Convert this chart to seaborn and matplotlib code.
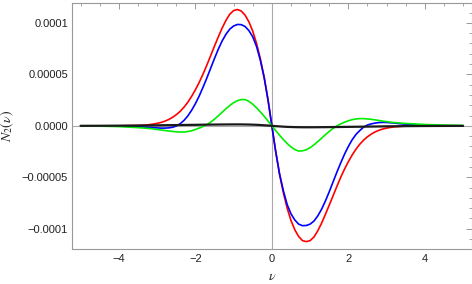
import matplotlib
matplotlib.use("Agg")
import matplotlib.pyplot as plt
import matplotlib.ticker as mticker
import numpy as np
import pandas as pd
import seaborn as sns

# sample points of nu: coarse on the flat tails, 0.1 steps in the middle
nu = [-5.0, -4.5, -4.0] + [round(v, 1) for v in np.arange(-3.5, 3.51, 0.1)] + [4.0, 4.5, 5.0]

# curve values, units of 1e-6
red = [0.0, 0.0, 0.04,
       0.38, 0.55, 0.8, 1.2, 1.7, 2.4, 3.3, 4.5, 6.1, 8.2,
       10.8, 14.0, 18.0, 22.8, 28.5, 35.0, 42.2, 50.3, 59.0, 68.2,
       77.5, 86.5, 95.0, 102.5, 108.5, 112.0, 113.0, 111.5, 107.5, 101.0,
       92.0, 80.0, 65.0, 47.0, 25.0,
       0.0,
       -25.0, -47.0, -65.0, -80.0, -92.0,
       -101.0, -107.5, -111.5, -112.5, -111.5, -108.0, -102.0, -94.5, -86.0, -77.0,
       -68.0, -58.8, -50.0, -42.0, -34.8, -28.3, -22.6, -17.8, -13.8, -10.6,
       -8.0, -5.9, -4.3, -3.1, -2.2, -1.5, -1.0, -0.7, -0.45, -0.3,
       -0.03, 0.0, 0.0]
blue = [0.0, -0.05, -0.25,
        -0.8, -1.0, -1.3, -1.5, -1.8, -2.0, -2.2, -2.2, -2.0, -1.4,
        -0.2, 2.0, 5.2, 9.5, 15.0, 21.5, 29.0, 37.5, 46.5, 56.0,
        65.5, 74.5, 82.5, 89.0, 94.0, 97.0, 98.5, 98.3, 96.5, 92.5,
        86.5, 77.0, 63.5, 46.5, 25.0,
        0.0,
        -25.0, -46.5, -63.0, -76.5, -85.5,
        -91.5, -95.5, -97.0, -96.8, -95.5, -92.5, -87.5, -81.0, -73.0, -64.0,
        -54.5, -45.0, -36.0, -27.5, -20.0, -13.5, -8.3, -4.5, -1.2, 0.8,
        1.9, 2.7, 3.2, 3.4, 3.3, 3.0, 2.7, 2.3, 1.9, 1.6,
        0.5, 0.15, 0.05]
green = [-0.1, -0.3, -0.7,
         -1.7, -2.0, -2.3, -2.6, -3.0, -3.5, -4.0, -4.5, -5.0, -5.4,
         -5.8, -6.0, -6.0, -5.6, -4.8, -3.6, -2.2, -0.6, 1.2, 3.6,
         6.5, 9.8, 13.2, 16.6, 19.8, 22.5, 24.5, 25.5, 25.5, 23.8,
         21.0, 17.5, 13.5, 9.2, 4.6,
         0.0,
         -4.6, -9.1, -13.3, -17.2, -20.5,
         -23.0, -24.5, -24.3, -23.2, -21.2, -18.5, -15.3, -12.0, -8.6, -5.4,
         -2.5, -0.1, 1.9, 3.6, 4.9, 6.0, 6.7, 7.0, 7.0, 6.7,
         6.3, 5.8, 5.2, 4.6, 4.1, 3.6, 3.2, 2.9, 2.6, 2.3,
         1.3, 0.7, 0.4]
black = [0.03, 0.07, 0.15,
         0.28, 0.32, 0.36, 0.4, 0.45, 0.5, 0.55, 0.6, 0.65, 0.7,
         0.75, 0.8, 0.85, 0.9, 0.95, 1.0, 1.05, 1.1, 1.15, 1.2,
         1.24, 1.28, 1.32, 1.35, 1.38, 1.4, 1.4, 1.38, 1.33, 1.25,
         1.15, 1.0, 0.8, 0.55, 0.3,
         0.0,
         -0.3, -0.55, -0.8, -1.0, -1.15,
         -1.25, -1.33, -1.38, -1.4, -1.4, -1.38, -1.35, -1.32, -1.28, -1.24,
         -1.2, -1.15, -1.1, -1.05, -1.0, -0.95, -0.9, -0.85, -0.8, -0.75,
         -0.7, -0.65, -0.6, -0.55, -0.5, -0.45, -0.4, -0.36, -0.32, -0.28,
         -0.15, -0.07, -0.03]

series_names = ["red", "blue", "green", "black"]
series_colors = ["#ff0000", "#0000ff", "#00ee00", "#1a1a1a"]

xtick_vals = [-4, -2, 0, 2, 4]
xtick_labels = ["\u22124", "\u22122", "0", "2", "4"]
ytick_vals = [1e-4, 5e-5, 0.0, -5e-5, -1e-4]
ytick_labels = ["0.0001", "0.00005", "0.0000", "\u22120.00005", "\u22120.0001"]

rows = []
for name, vals in zip(series_names, [red, blue, green, black]):
    for x, y in zip(nu, vals):
        rows.append({"nu": x, "N2": y * 1e-6, "curve": name})
df = pd.DataFrame(rows)

sns.set_style("white")
plt.rcParams["font.family"] = ["Liberation Sans", "DejaVu Sans"]
plt.rcParams["mathtext.fontset"] = "stix"

fig = plt.figure(figsize=(4.72, 2.84), dpi=100)
ax = fig.add_axes([0.153, 0.122, 0.846, 0.868])

# axes lines through the origin
ax.axhline(0, color="#aaaaaa", lw=0.8, zorder=1)
ax.axvline(0, color="#aaaaaa", lw=0.8, zorder=1)

sns.lineplot(data=df, x="nu", y="N2", hue="curve", hue_order=series_names,
             palette=dict(zip(series_names, series_colors)), legend=False,
             ax=ax, lw=1.2, zorder=3)
ax.lines[-1].set_linewidth(1.6)

ax.set_xlim(-5.22, 5.22)
ax.set_ylim(-1.2e-4, 1.195e-4)

ax.xaxis.set_major_locator(mticker.FixedLocator(xtick_vals))
ax.xaxis.set_major_formatter(mticker.FixedFormatter(xtick_labels))
ax.xaxis.set_minor_locator(mticker.MultipleLocator(0.5))
ax.yaxis.set_major_locator(mticker.FixedLocator(ytick_vals))
ax.yaxis.set_major_formatter(mticker.FixedFormatter(ytick_labels))
ax.yaxis.set_minor_locator(mticker.MultipleLocator(1e-5))

ax.tick_params(which="both", direction="in", top=True, right=True,
               color="#999999", labelsize=8, labelcolor="#222222", pad=3)
ax.tick_params(which="major", length=4, width=0.7)
ax.tick_params(which="minor", length=2, width=0.6)
for s in ax.spines.values():
    s.set_color("#999999")
    s.set_linewidth(0.8)

ax.set_xlabel(r"$\nu$", fontsize=10, labelpad=4)
ax.set_ylabel(r"$N_2(\nu)$", fontsize=10, labelpad=4)

fig.savefig("out.png", dpi=100)
